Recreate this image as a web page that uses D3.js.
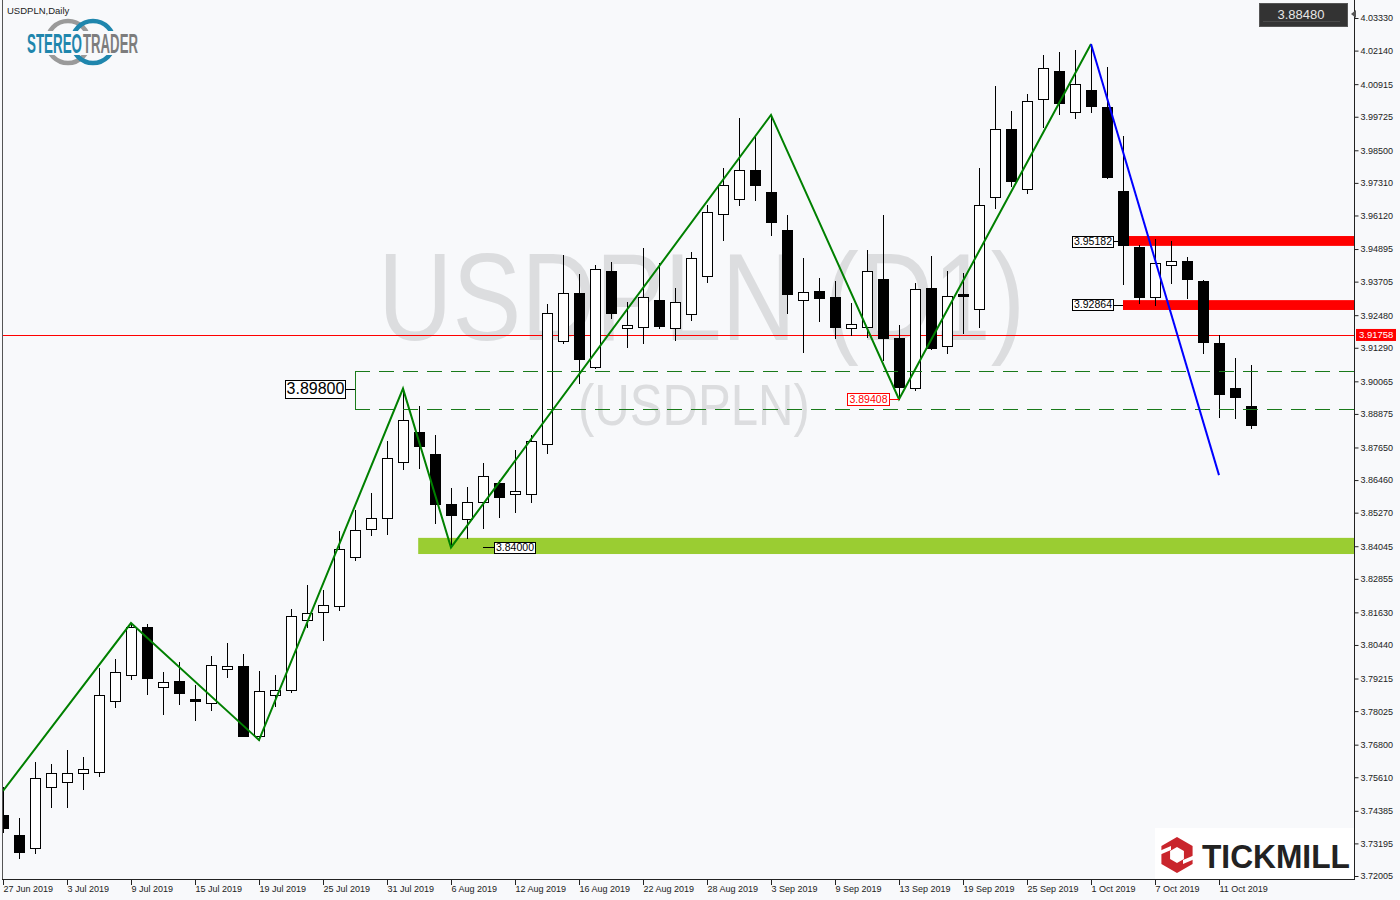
<!DOCTYPE html>
<html><head><meta charset="utf-8">
<script src="https://cdn.jsdelivr.net/npm/d3@7"></script>
<style>body{margin:0;background:#f8f9fb;} svg{display:block;} text{font-family:"Liberation Sans",Arial,sans-serif;}</style>
</head><body><svg id="c" width="1400" height="900"></svg>
<script>
// ---- data ----
const symbolTitle = "USDPLN,Daily";
const dateTickLabels = ["27 Jun 2019","3 Jul 2019","9 Jul 2019","15 Jul 2019","19 Jul 2019","25 Jul 2019","31 Jul 2019","6 Aug 2019","12 Aug 2019","16 Aug 2019","22 Aug 2019","28 Aug 2019","3 Sep 2019","9 Sep 2019","13 Sep 2019","19 Sep 2019","25 Sep 2019","1 Oct 2019","7 Oct 2019","11 Oct 2019"];
const dateTickBars = [0,4,8,12,16,20,24,28,32,36,40,44,48,52,56,60,64,68,72,76];
const priceTicks = [4.03330,4.02140,4.00915,3.99725,3.98500,3.97310,3.96120,3.94895,3.93705,3.92480,3.91290,3.90065,3.88875,3.87650,3.86460,3.85270,3.84045,3.82855,3.81630,3.80440,3.79215,3.78025,3.76800,3.75610,3.74385,3.73195,3.72005];

const open = [3.7423,3.7350,3.7303,3.7525,3.7544,3.7577,3.7580,3.7839,3.7934,3.8110,
3.7891,3.7912,3.7847,3.7832,3.7956,3.7967,3.7712,3.7861,3.7880,3.8135,
3.8164,3.8186,3.8365,3.8467,3.8508,3.8712,3.8822,3.8741,3.8559,3.8504,
3.8566,3.8635,3.8595,3.8595,3.8778,3.9154,3.9329,3.9059,3.9409,3.9201,
3.9205,3.9303,3.9201,3.9252,3.9391,3.9617,3.9672,3.9778,3.9698,3.9559,
3.9303,3.9336,3.9314,3.9201,3.9205,3.9380,3.9165,3.8982,3.9347,3.9136,
3.9325,3.9271,3.9680,3.9928,3.9709,4.0037,4.0140,3.9990,4.0070,4.0008,
3.9701,3.9497,3.9314,3.9431,3.9446,3.9373,3.9146,3.8982,3.8916];
const high = [3.7525,3.7412,3.7617,3.7609,3.7661,3.7635,3.7960,3.7993,3.8124,3.8121,
3.7945,3.7982,3.7898,3.8004,3.8051,3.8011,3.7949,3.7934,3.8175,3.8263,
3.8245,3.8460,3.8537,3.8599,3.8789,3.8980,3.8916,3.8811,3.8617,3.8621,
3.8708,3.8646,3.8756,3.8811,3.9289,3.9468,3.9398,3.9431,3.9442,3.9296,
3.9493,3.9439,3.9347,3.9479,3.9650,3.9785,3.9968,3.9906,3.9979,3.9614,
3.9457,3.9384,3.9373,3.9293,3.9486,3.9614,3.9212,3.9366,3.9464,3.9409,
3.9402,3.9785,4.0085,3.9994,4.0056,4.0198,4.0209,4.0216,4.0238,4.0154,
3.9902,3.9504,3.9526,3.9519,3.9460,3.9376,3.9176,3.9092,3.9066];
const low = [3.7361,3.7266,3.7284,3.7452,3.7452,3.7518,3.7566,3.7818,3.7920,3.7865,
3.7792,3.7828,3.7770,3.7807,3.7927,3.7710,3.7697,3.7821,3.7872,3.8110,
3.8062,3.8172,3.8354,3.8445,3.8449,3.8686,3.8690,3.8489,3.8400,3.8435,
3.8471,3.8511,3.8529,3.8566,3.8745,3.9146,3.9000,3.9055,3.9238,3.9132,
3.9146,3.9201,3.9157,3.9230,3.9369,3.9523,3.9650,3.9669,3.9541,3.9256,
3.9114,3.9227,3.9165,3.9176,3.9168,3.9084,3.8941,3.8975,3.9125,3.9110,
3.9183,3.9205,3.9639,3.9720,3.9694,3.9935,3.9983,3.9968,3.9990,3.9749,
3.9362,3.9293,3.9285,3.9366,3.9311,3.9110,3.8876,3.8873,3.8836];
const close = [3.7376,3.7288,3.7558,3.7577,3.7577,3.7591,3.7861,3.7945,3.8110,3.7923,
3.7909,3.7869,3.7839,3.7971,3.7967,3.7712,3.7876,3.7880,3.8150,3.8161,
3.8190,3.8394,3.8464,3.8508,3.8727,3.8865,3.8770,3.8559,3.8519,3.8566,
3.8661,3.8584,3.8606,3.8789,3.9256,3.9329,3.9088,3.9417,3.9256,3.9212,
3.9314,3.9209,3.9296,3.9457,3.9625,3.9723,3.9778,3.9723,3.9588,3.9325,
3.9333,3.9311,3.9205,3.9216,3.9409,3.9165,3.8986,3.9344,3.9128,3.9318,
3.9318,3.9650,3.9928,3.9738,4.0030,4.0150,4.0023,4.0092,4.0012,3.9753,
3.9504,3.9314,3.9439,3.9446,3.9380,3.9150,3.8960,3.8949,3.8848];

const zigzagBars = [0,8,16,25,28,48,56,68];
const zigzagPrices = [3.7511,3.8124,3.7697,3.8980,3.8400,3.9979,3.8941,4.0238];
const trendBars = [68,76];
const trendPrices = [4.0238,3.8664];

const bidPrice = 3.91758;
const lastPrice = "3.88480";
const dashedLevels = [3.9044,3.8905];
const dashedStartBar = 22;
const rangeLabel = "3.89800", rangeLabelPrice = 3.8980;
const resistZones = [{top:3.9537,bottom:3.9501,label:"3.95182",price:3.95182,start:70.3},
                     {top:3.9303,bottom:3.9267,label:"3.92864",price:3.92864,start:70}];
const supportZone = {top:3.8435,bottom:3.8376,label:"3.84000",price:3.8400,start:25.95,labelBar:30};
const lowLabel = {label:"3.89408",price:3.89408,bar:56};

// ---- setup ----
const W=1400,H=900, R=1354, B=880, L=2;
const svg=d3.select("#c");
svg.append("rect").attr("width",W).attr("height",H).attr("fill","#f8f9fb");
const x=d3.scaleLinear().domain([0,78]).range([3,1251]);
const y=d3.scaleLinear().domain([3.72005,4.0333]).range([876,18]);

svg.append("defs").append("clipPath").attr("id","clip").append("rect")
  .attr("x",L+1).attr("y",0).attr("width",R-L-1).attr("height",B);
const plot=svg.append("g").attr("clip-path","url(#clip)");

// helper: horizontally condensed text without overflowing bbox
function squeezedText(g,txt,xl,yb,fs,targetW,attrs){
  const t=g.append("text").attr("x",0).attr("y",0).attr("font-size",fs).text(txt);
  Object.entries(attrs||{}).forEach(([k,v])=>t.attr(k,v));
  const nat=t.node().getComputedTextLength();
  t.attr("transform",`translate(${xl},${yb}) scale(${targetW/nat},1)`);
  return t;
}

// watermark
squeezedText(plot,"USDPLN (D1)",378,340,124,647,{fill:"#dcdddf"});
squeezedText(plot,"(USDPLN)",578,425,58,232,{fill:"#dcdddf"});

// zones (background)
resistZones.forEach(z=>{
  plot.append("rect").attr("x",x(z.start)).attr("y",y(z.top))
    .attr("width",R-x(z.start)).attr("height",y(z.bottom)-y(z.top)).attr("fill","#ff0000");
});
plot.append("rect").attr("x",x(supportZone.start)).attr("y",y(supportZone.top))
  .attr("width",R-x(supportZone.start)).attr("height",y(supportZone.bottom)-y(supportZone.top)).attr("fill","#9acd32");

// bid line
plot.append("line").attr("x1",L).attr("x2",R).attr("y1",Math.round(y(bidPrice))+0.5).attr("y2",Math.round(y(bidPrice))+0.5)
  .attr("stroke","#ff0000").attr("stroke-width",1);

// candles
const bars=d3.range(open.length).map(i=>({i,o:open[i],h:high[i],l:low[i],c:close[i]}));
const cg=plot.append("g");
bars.forEach(d=>{
  const cx=Math.round(x(d.i))+0.5;
  cg.append("line").attr("x1",cx).attr("x2",cx).attr("y1",Math.round(y(d.h))).attr("y2",Math.round(y(d.l))+1)
    .attr("stroke","#000").attr("stroke-width",1);
  const top=Math.round(y(Math.max(d.o,d.c)))+0.5, bot=Math.round(y(Math.min(d.o,d.c)))+0.5;
  cg.append("rect").attr("x",cx-5).attr("y",top).attr("width",10).attr("height",Math.max(1,bot-top))
    .attr("fill",d.c>=d.o?"#ffffff":"#000000").attr("stroke","#000").attr("stroke-width",1);
});

// dashed levels & bracket
dashedLevels.forEach(p=>{
  plot.append("line").attr("x1",x(dashedStartBar)).attr("x2",R).attr("y1",Math.round(y(p))+0.5).attr("y2",Math.round(y(p))+0.5)
    .attr("stroke","#1a7a1a").attr("stroke-width",1).attr("stroke-dasharray","15,9");
});
plot.append("line").attr("x1",Math.round(x(dashedStartBar))+0.5).attr("x2",Math.round(x(dashedStartBar))+0.5)
  .attr("y1",Math.round(y(dashedLevels[0]))+0.5).attr("y2",Math.round(y(dashedLevels[1]))+0.5)
  .attr("stroke","#1a7a1a").attr("stroke-width",1);

// zigzag & trend line
const line=d3.line().x(d=>x(d[0])).y(d=>y(d[1]));
plot.append("path").attr("d",line(zigzagBars.map((b,k)=>[b,zigzagPrices[k]])))
  .attr("fill","none").attr("stroke","#008000").attr("stroke-width",2);
plot.append("path").attr("d",line(trendBars.map((b,k)=>[b,trendPrices[k]])))
  .attr("fill","none").attr("stroke","#0000ff").attr("stroke-width",2);

// label boxes
function labelBox(xl,yc,txt,fs,color,w,h){
  const g=plot.append("g");
  g.append("rect").attr("x",Math.round(xl)+0.5).attr("y",Math.round(yc-h/2)+0.5).attr("width",w).attr("height",h)
    .attr("fill","#ffffff").attr("stroke",color).attr("stroke-width",1);
  g.append("text").attr("x",xl+w/2+0.5).attr("y",yc+fs*0.36).attr("text-anchor","middle")
    .attr("font-size",fs).attr("fill",color).text(txt);
}
function connector(x1,x2,yy,color){
  plot.append("line").attr("x1",x1).attr("x2",x2).attr("y1",Math.round(yy)+0.5).attr("y2",Math.round(yy)+0.5)
    .attr("stroke",color).attr("stroke-width",1);
}
{
  const yy=y(rangeLabelPrice), xr=x(dashedStartBar)-10;
  connector(xr,x(dashedStartBar),yy,"#000");
  labelBox(xr-60,yy,rangeLabel,16,"#000",60,18);
}
resistZones.forEach(z=>{
  const yy=y(z.price), xr=x(70)-10;
  connector(xr,x(z.start),yy,"#000");
  labelBox(xr-41,yy,z.label,10.5,"#000",41,11);
});
{
  const yy=y(supportZone.price), xs=x(supportZone.labelBar);
  connector(xs,xs+11,yy,"#000");
  labelBox(xs+11,yy,supportZone.label,10.5,"#000",41,11);
}
{
  const yy=y(lowLabel.price), xe=x(lowLabel.bar);
  connector(xe-10,xe,yy,"#ff0000");
  labelBox(xe-52,yy,lowLabel.label,10.5,"#ff0000",42,12);
}

// frame & axes
svg.append("line").attr("x1",L+0.5).attr("x2",L+0.5).attr("y1",0).attr("y2",B).attr("stroke","#555").attr("stroke-width",1);
svg.append("line").attr("x1",L).attr("x2",R+1).attr("y1",B-0.5).attr("y2",B-0.5).attr("stroke","#222").attr("stroke-width",1);
svg.append("line").attr("x1",R+0.5).attr("x2",R+0.5).attr("y1",0).attr("y2",B).attr("stroke","#222").attr("stroke-width",1);

const yAxis=d3.axisRight(y).tickValues(priceTicks).tickFormat(d3.format(".5f")).tickSize(4).tickPadding(2);
const ya=svg.append("g").attr("transform",`translate(${R+0.5},0)`).call(yAxis);
ya.select(".domain").remove();
ya.selectAll("text").attr("font-size",9).attr("fill","#222").attr("font-family","Liberation Sans, Arial, sans-serif");
ya.selectAll("line").attr("stroke","#222");

const xg=svg.append("g");
dateTickBars.forEach((b,k)=>{
  const tx=Math.round(x(b))+0.5;
  xg.append("line").attr("x1",tx).attr("x2",tx).attr("y1",B).attr("y2",B+5).attr("stroke","#222");
  xg.append("text").attr("x",tx).attr("y",B+12).attr("font-size",9).attr("fill","#222").text(dateTickLabels[k]);
});

// bid price tag on axis
{
  const yy=y(bidPrice);
  svg.append("rect").attr("x",R+2).attr("y",yy-6).attr("width",40).attr("height",12).attr("fill","#ff0000");
  svg.append("text").attr("x",R+5).attr("y",yy+3.5).attr("font-size",9.5).attr("fill","#fff").text(bidPrice.toFixed(5));
}

// top-right last price box
svg.append("rect").attr("x",1259.5).attr("y",3.5).attr("width",88).attr("height",23).attr("fill","#333333").attr("stroke","#555");
svg.append("line").attr("x1",1263).attr("x2",1340).attr("y1",21.5).attr("y2",21.5).attr("stroke","#4a4a4a");
svg.append("text").attr("x",1301).attr("y",19).attr("text-anchor","middle").attr("font-size",13).attr("fill","#e6e6e6").text(lastPrice);
svg.append("path").attr("d","M1351,14 L1356,10 L1356,18 Z").attr("fill","#555");

// title
svg.append("text").attr("x",7).attr("y",14).attr("font-size",9.5).attr("fill","#222").text(symbolTitle);

// StereoTrader logo
{
  const g=svg.append("g");
  g.append("circle").attr("cx",68).attr("cy",42).attr("r",21).attr("fill","none").attr("stroke","#9a9a9a").attr("stroke-width",4.5);
  g.append("circle").attr("cx",93).attr("cy",42).attr("r",21).attr("fill","none").attr("stroke","#1f86ad").attr("stroke-width",4.5);
  g.append("rect").attr("x",25).attr("y",31).attr("width",116).attr("height",24).attr("fill","#f8f9fb");
  squeezedText(g,"STEREO",27,53,28,55,{fill:"#1f86ad","font-weight":"bold"});
  squeezedText(g,"TRADER",83,53,28,55,{fill:"#7d7d7d","font-weight":"bold"});
}

// Tickmill logo
{
  const g=svg.append("g");
  g.append("rect").attr("x",1155).attr("y",828).attr("width",199).attr("height",51).attr("fill","#ffffff");
  const cx=1177,cy=855,ro=18,ri=8;
  const hex=(r)=>d3.range(6).map(k=>{const a=Math.PI/180*(60*k-90);return [cx+r*Math.cos(a),cy+r*Math.sin(a)];});
  const ho=hex(ro), hi=hex(ri);
  g.append("path").attr("d","M"+ho.join("L")+"Z M"+hi.reverse().join("L")+"Z").attr("fill","#c9252c").attr("fill-rule","evenodd");
  g.append("path").attr("d",`M${cx-20},${cy-3} L${cx-6},${cy-9} L${cx-6},${cy-5} L${cx-20},${cy+1} Z`).attr("fill","#ffffff");
  g.append("path").attr("d",`M${cx+20},${cy+3} L${cx+6},${cy+9} L${cx+6},${cy+5} L${cx+20},${cy-1} Z`).attr("fill","#ffffff");
  squeezedText(g,"TICKMILL",1202,868,34,148,{fill:"#222","font-weight":"bold"});
}
</script></body></html>
